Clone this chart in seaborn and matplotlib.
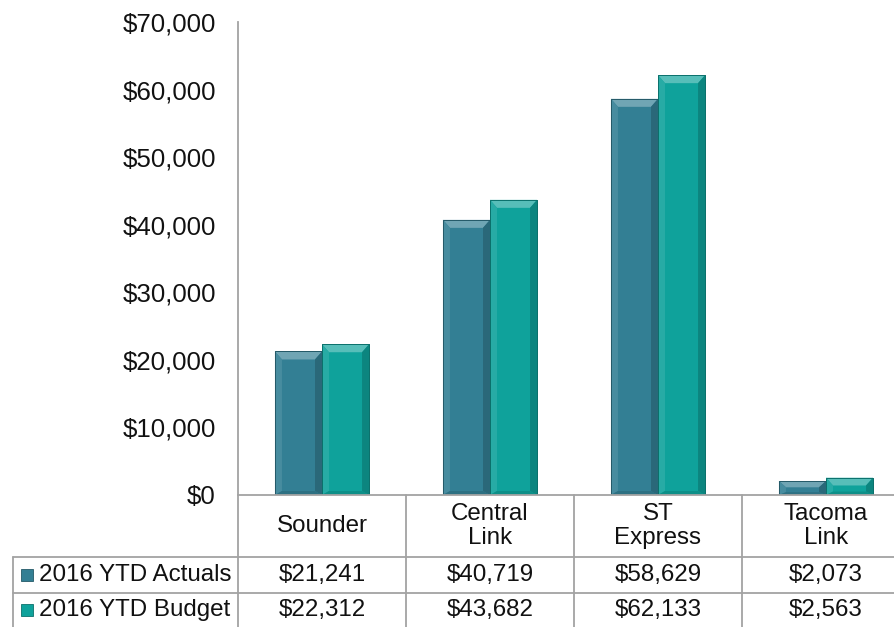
import numpy as np
import pandas as pd
import matplotlib
matplotlib.use("Agg")
import matplotlib.pyplot as plt
import matplotlib.transforms as mtransforms
from matplotlib.patches import Polygon, Rectangle
from matplotlib.colors import to_rgb
import seaborn as sns

# ---------------- data ----------------
categories = ["Sounder", "Central\nLink", "ST\nExpress", "Tacoma\nLink"]
series = ["2016 YTD Actuals", "2016 YTD Budget"]
actuals = [21241, 40719, 58629, 2073]
budget = [22312, 43682, 62133, 2563]
yticks = [0, 10000, 20000, 30000, 40000, 50000, 60000, 70000]
colors = ["#337F94", "#0FA29B"]

df = pd.DataFrame({
    "category": categories * 2,
    "series": [series[0]] * len(categories) + [series[1]] * len(categories),
    "value": actuals + budget,
})

sns.set_theme(style="white")
plt.rcParams["font.family"] = ["Liberation Sans", "DejaVu Sans"]

W, H = 895, 627
fig = plt.figure(figsize=(W / 100, H / 100), dpi=100)
ax_left, ax_bottom, ax_wpx, ax_hpx = 238, 132, 672, 473
ax = fig.add_axes([ax_left / W, ax_bottom / H, ax_wpx / W, ax_hpx / H])

sns.barplot(data=df, x="category", y="value", hue="series", order=categories,
            hue_order=series, palette=colors, saturation=1, width=0.56,
            edgecolor="#2a5f6a", linewidth=0.6, legend=False, ax=ax)

ax.set_xlim(-0.5, len(categories) - 0.5)
ax.set_ylim(0, 70000)
ax.set_yticks(yticks)
ax.set_yticklabels([f"${v:,}" for v in yticks], fontsize=18.6, color="#111111")
ax.tick_params(axis="y", length=0, pad=16)
ax.set_xticks([])
ax.set_xlabel("")
ax.set_ylabel("")
for s in ["top", "right"]:
    ax.spines[s].set_visible(False)
line_c = "#a3a3a3"
for s in ["left", "bottom"]:
    ax.spines[s].set_color(line_c)
    ax.spines[s].set_linewidth(1.3)

# ---------------- bevel effect on bars ----------------
def mix(c, t, f):
    c = np.array(to_rgb(c)); t = np.array(to_rgb(t))
    return tuple(c * (1 - f) + t * f)

px_x = 1 / (ax_wpx / len(categories))
px_y = 70000 / ax_hpx
for p in list(ax.patches):
    x, w, h = p.get_x(), p.get_width(), p.get_height()
    if h <= 0:
        continue
    base = p.get_facecolor()[:3]
    bx = 7 * px_x
    by = min(8 * px_y, h * 0.45)
    bb = min(4 * px_y, h * 0.2)
    polys = [
        ([(x, h), (x + w, h), (x + w - bx, h - by), (x + bx, h - by)], mix(base, "white", 0.3)),
        ([(x, 0), (x, h), (x + bx, h - by), (x + bx, bb)], mix(base, "white", 0.1)),
        ([(x + w, 0), (x + w, h), (x + w - bx, h - by), (x + w - bx, bb)], mix(base, "black", 0.18)),
        ([(x, 0), (x + w, 0), (x + w - bx, bb), (x + bx, bb)], mix(base, "black", 0.12)),
    ]
    for pts, c in polys:
        ax.add_patch(Polygon(pts, closed=True, facecolor=c, edgecolor="none", zorder=p.get_zorder() + 0.1))
    ax.add_patch(Rectangle((x, 0), w, h, facecolor="none", edgecolor=mix(base, "black", 0.3),
                           linewidth=0.7, zorder=p.get_zorder() + 0.2))

# ---------------- data table ----------------
tr = mtransforms.blended_transform_factory(ax.transData, ax.transAxes)
r0, r1, r2, r3 = 0, -62 / ax_hpx, -98 / ax_hpx, -132 / ax_hpx
n = len(categories)
xl = -0.5 - 225 * px_x

for k in range(n + 1):
    ax.plot([k - 0.5, k - 0.5], [r0, r3], transform=tr, color=line_c, lw=1.3, clip_on=False)
ax.plot([xl, xl], [r1, r3], transform=tr, color=line_c, lw=1.3, clip_on=False)
for yy in (r1, r2):
    ax.plot([xl, n - 0.5], [yy, yy], transform=tr, color=line_c, lw=1.3, clip_on=False)

tfs = 17.4
for i, cat in enumerate(categories):
    ax.text(i, (r0 + r1) / 2, cat, transform=tr, ha="center", va="center",
            fontsize=tfs, linespacing=1.12, color="#111111")
    ax.text(i, (r1 + r2) / 2, f"${actuals[i]:,}", transform=tr, ha="center", va="center",
            fontsize=tfs, color="#111111")
    ax.text(i, (r2 + r3) / 2, f"${budget[i]:,}", transform=tr, ha="center", va="center",
            fontsize=tfs, color="#111111")

for (ya, yb), name, c in zip([(r1, r2), (r2, r3)], series, colors):
    yc = (ya + yb) / 2
    sq = 12
    ax.add_patch(Rectangle((xl + 8 * px_x, yc - sq / 2 / ax_hpx), sq * px_x, sq / ax_hpx,
                           transform=tr, facecolor=c, edgecolor=mix(c, "black", 0.3),
                           linewidth=0.6, clip_on=False))
    ax.text(xl + 26 * px_x, yc, name, transform=tr, ha="left", va="center",
            fontsize=tfs, color="#111111")

fig.savefig("out.png", dpi=100, facecolor="white")
